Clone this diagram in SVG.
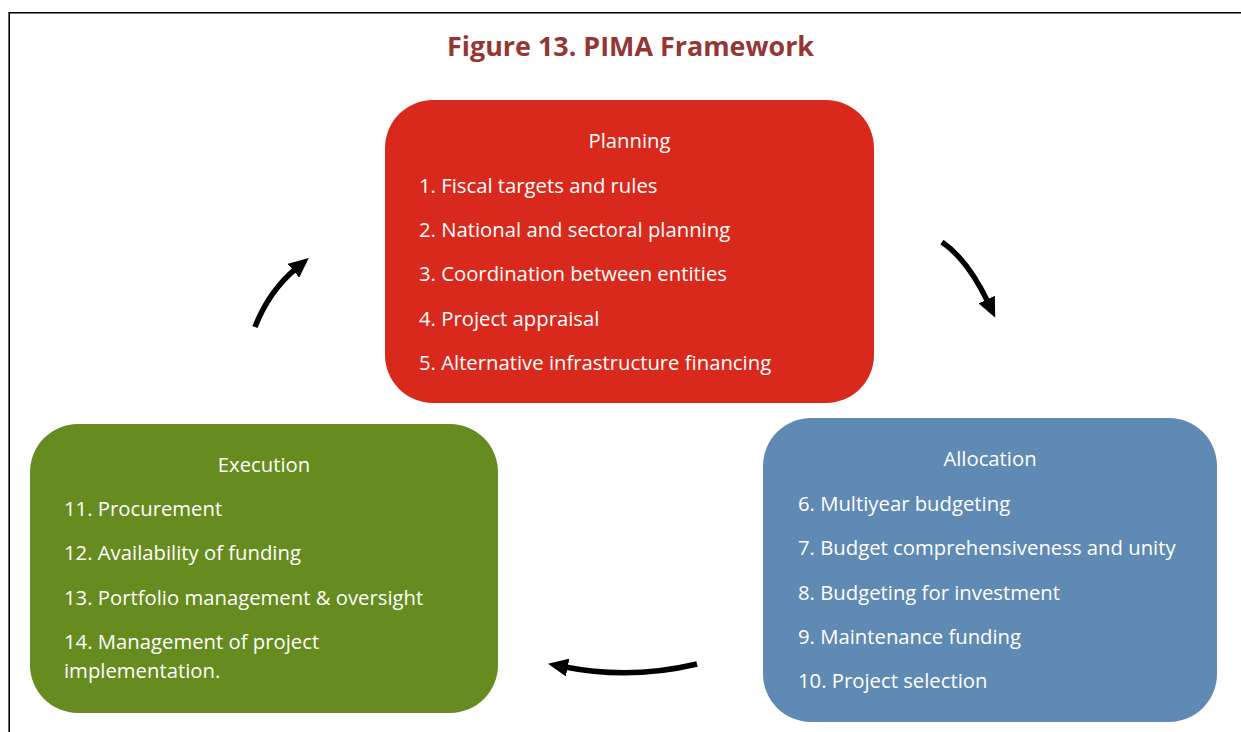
<svg xmlns="http://www.w3.org/2000/svg" width="1241" height="732" viewBox="0 0 1241 732">
<defs>
<style>
.title{font-family:"Open Sans","Noto Sans","Liberation Sans",sans-serif;font-weight:bold;font-size:26.9px;fill:#943634}
.hd{font-family:"Open Sans","Noto Sans","Liberation Sans",sans-serif;font-size:20.3px;fill:#ffffff;text-anchor:middle}
.it{font-family:"Open Sans","Noto Sans","Liberation Sans",sans-serif;font-size:20.3px;fill:#ffffff}
.arr{fill:none;stroke:#000;stroke-width:5.5;marker-end:url(#head)}
</style>
<marker id="head" markerUnits="userSpaceOnUse" markerWidth="20" markerHeight="18" viewBox="0 0 20 18" refX="4" refY="9" orient="auto">
<path d="M0,0 L20,9 L0,18 z" fill="#000"/>
</marker>
</defs>
<rect width="1241" height="732" fill="#fff"/>
<path d="M9.2,732 V12.7 H1241" fill="none" stroke="#000" stroke-width="1.6"/>
<text id="title" class="title" x="630.5" y="56" text-anchor="middle">Figure 13. PIMA Framework</text>
<g id="planning">
<rect x="385" y="100" width="489" height="303" rx="48" fill="#D9291C"/>
<text class="hd" x="629.5" y="148">Planning</text>
<text class="it" x="419" y="193">1. Fiscal targets and rules</text>
<text class="it" x="419" y="237">2. National and sectoral planning</text>
<text class="it" x="419" y="281">3. Coordination between entities</text>
<text class="it" x="419" y="326">4. Project appraisal</text>
<text class="it" x="419" y="370">5. Alternative infrastructure financing</text>
</g>
<g id="allocation">
<rect x="763" y="418" width="454" height="304" rx="48" fill="#5F8AB4"/>
<text class="hd" x="990" y="466">Allocation</text>
<text class="it" x="798" y="511">6. Multiyear budgeting</text>
<text class="it" x="798" y="555">7. Budget comprehensiveness and unity</text>
<text class="it" x="798" y="600">8. Budgeting for investment</text>
<text class="it" x="798" y="644">9. Maintenance funding</text>
<text class="it" x="798" y="688">10. Project selection</text>
</g>
<g id="execution">
<rect x="30" y="424" width="468" height="289" rx="48" fill="#668B1E"/>
<text class="hd" x="264" y="472">Execution</text>
<text class="it" x="64" y="516">11. Procurement</text>
<text class="it" x="64" y="560">12. Availability of funding</text>
<text class="it" x="64" y="605">13. Portfolio management &amp; oversight</text>
<text class="it" x="64" y="649">14. Management of project</text>
<text class="it" x="64" y="678">implementation.</text>
</g>
<g id="connectors">
<path class="arr" d="M255,327 Q269,291 296.5,268.2"/>
<path class="arr" d="M942,242 Q968,260 988.4,303.2"/>
<path class="arr" d="M697,664 Q630,680 563.7,666.8"/>
</g>
</svg>
